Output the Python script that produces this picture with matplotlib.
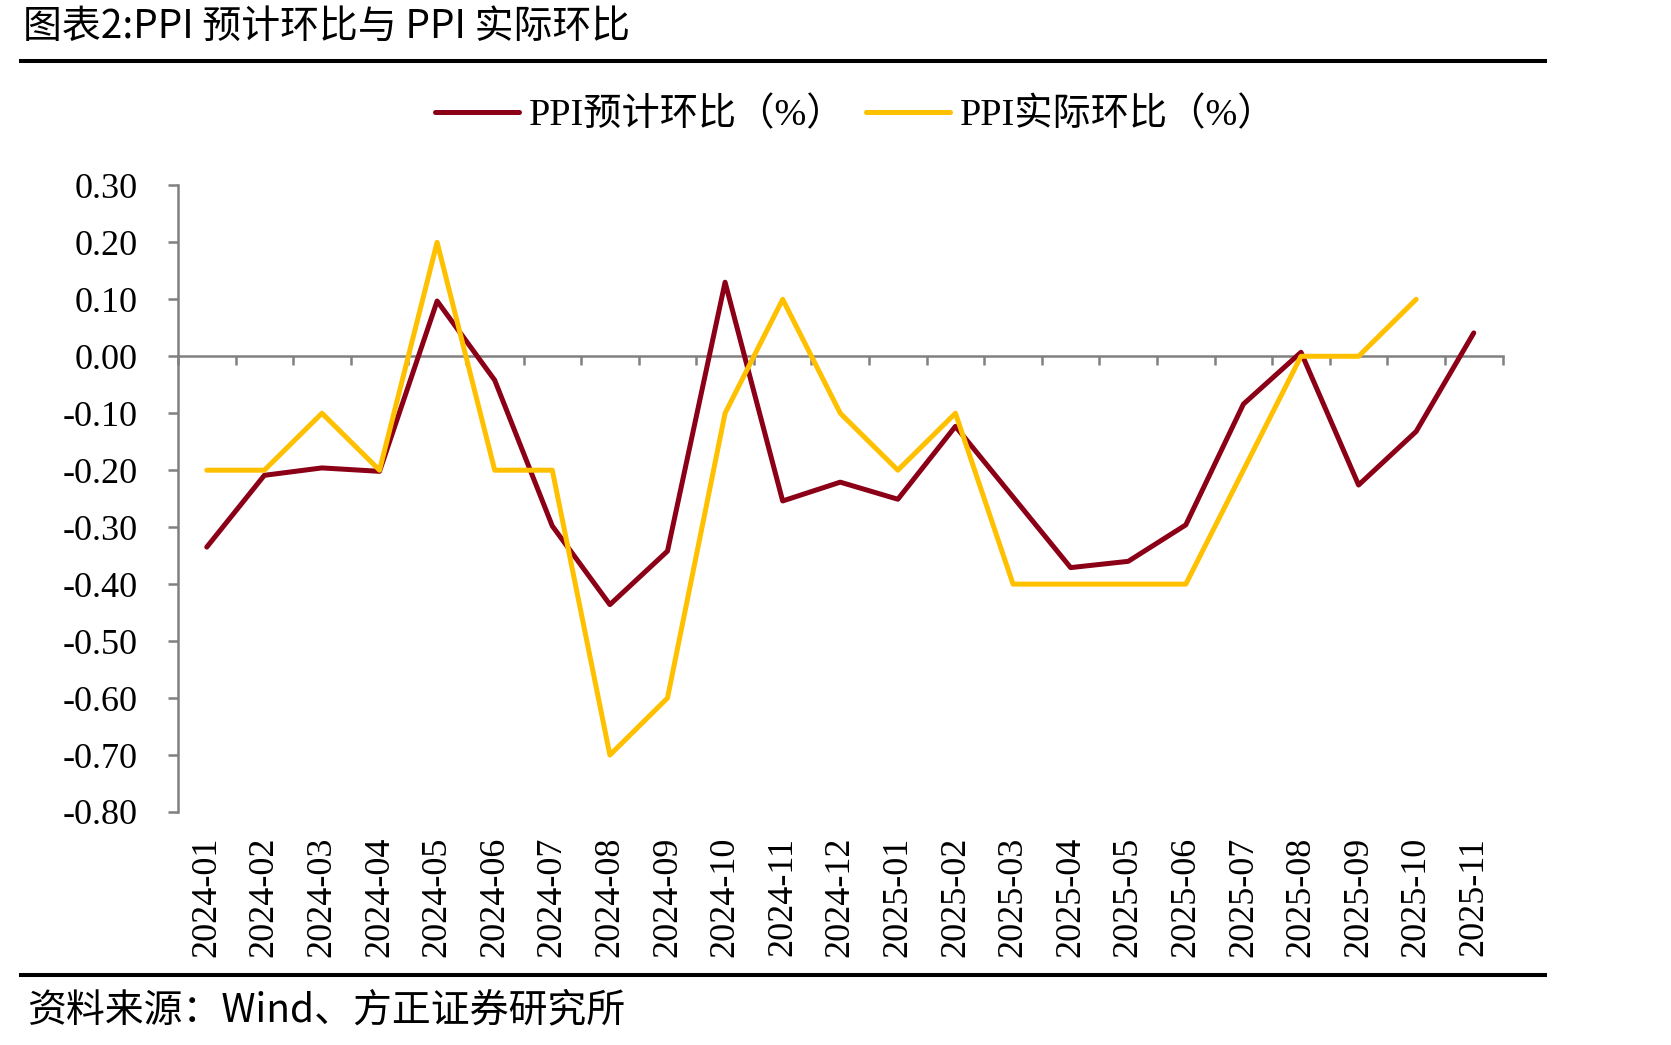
import matplotlib.pyplot as plt
from matplotlib.lines import Line2D

# data
months = ["2024-01", "2024-02", "2024-03", "2024-04", "2024-05", "2024-06",
          "2024-07", "2024-08", "2024-09", "2024-10", "2024-11", "2024-12",
          "2025-01", "2025-02", "2025-03", "2025-04", "2025-05", "2025-06",
          "2025-07", "2025-08", "2025-09", "2025-10", "2025-11"]
ppi_expected = [-0.335, -0.209, -0.196, -0.202, 0.097, -0.042, -0.298, -0.436,
                -0.342, 0.130, -0.254, -0.221, -0.251, -0.123, -0.247, -0.371,
                -0.360, -0.296, -0.084, 0.007, -0.226, -0.132, 0.041]
ppi_actual = [-0.2, -0.2, -0.1, -0.2, 0.2, -0.2, -0.2, -0.7, -0.6, -0.1, 0.1,
              -0.1, -0.2, -0.1, -0.4, -0.4, -0.4, -0.4, -0.2, 0.0, 0.0, 0.1]
y_ticks = [0.3, 0.2, 0.1, 0.0, -0.1, -0.2, -0.3, -0.4, -0.5, -0.6, -0.7, -0.8]
y_labels = ["0.30", "0.20", "0.10", "0.00", "-0.10", "-0.20", "-0.30", "-0.40",
            "-0.50", "-0.60", "-0.70", "-0.80"]

RED = "#8B0016"
YELLOW = "#FFC000"
GRAY = "#808080"
serif = ["Liberation Serif", "Noto Sans CJK SC"]
cjk = ["Noto Sans CJK SC", "DejaVu Sans"]

fig = plt.figure(figsize=(16.71, 10.45), dpi=100)
ax = fig.add_axes([0.1065, 0.223, 0.7927, 0.5996])

x = list(range(len(months)))
ax.plot(x, ppi_expected, color=RED, lw=3.6, solid_capstyle="round",
        label="PPI预计环比（%）")
ax.plot(x[:len(ppi_actual)], ppi_actual, color=YELLOW, lw=3.6,
        solid_capstyle="round", label="PPI实际环比（%）")

ax.set_xlim(-0.5, len(months) - 0.5)
ax.set_ylim(-0.8, 0.3)

# y axis
ax.set_yticks(y_ticks)
ax.set_yticklabels(y_labels, fontfamily=serif, fontsize=26)
ax.tick_params(axis="y", direction="out", length=7, width=1.8, color=GRAY, pad=22)
ax.spines["left"].set_color(GRAY)
ax.spines["left"].set_linewidth(1.8)
for s in ["top", "right", "bottom"]:
    ax.spines[s].set_visible(False)

# month labels sit at the bottom of the plot
ax.set_xticks(x)
ax.set_xticklabels(months, rotation=90, fontfamily=serif, fontsize=26)
ax.tick_params(axis="x", length=0, pad=18)

# zero line with ticks between categories (secondary axis draws on its "top" side)
zero = ax.secondary_xaxis(0.8 / 1.1)
zero.set_xticks([i - 0.5 for i in range(len(months) + 1)])
zero.set_xticklabels([])
zero.tick_params(direction="in", length=6.5, width=1.8, color=GRAY)
for sp in zero.spines.values():
    sp.set_color(GRAY)
    sp.set_linewidth(1.8)

fig.legend(loc="center", bbox_to_anchor=(0.512, 0.890), ncol=2, frameon=False,
           prop={"family": serif, "size": 27.5}, handlelength=2.2,
           handletextpad=0.25, columnspacing=0.55)

# title, rules and source
fig.text(0.014, 0.974, "图表2:PPI 预计环比与 PPI 实际环比", fontfamily=cjk,
         fontsize=28, va="center", ha="left")
fig.add_artist(Line2D([0.0126, 0.9246], [0.9416, 0.9416], color="black",
                      lw=2.9, transform=fig.transFigure))
fig.add_artist(Line2D([0.0126, 0.9246], [0.0673, 0.0673], color="black",
                      lw=2.9, transform=fig.transFigure))
fig.text(0.016, 0.033, "资料来源：Wind、方正证券研究所", fontfamily=cjk,
         fontsize=28, va="center", ha="left")

plt.savefig("out.png", dpi=100)
